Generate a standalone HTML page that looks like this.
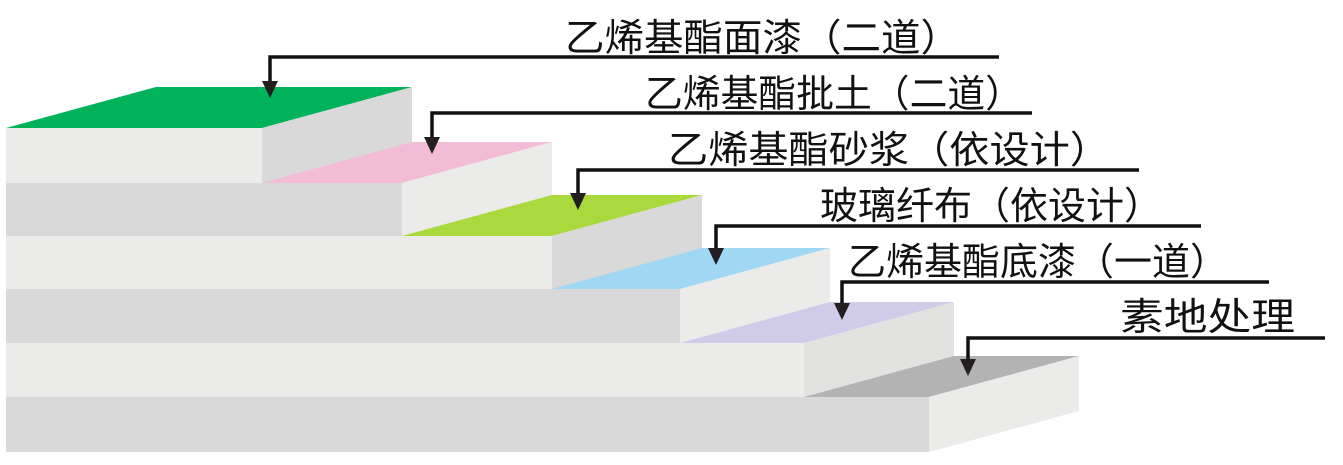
<!DOCTYPE html>
<html><head><meta charset="utf-8"><style>
html,body{margin:0;padding:0;background:#fff;width:1343px;height:465px;overflow:hidden}
svg{display:block}
text{font-family:"Liberation Sans","Noto Sans CJK SC",sans-serif;font-size:38px;fill:#111}
</style></head><body>
<svg width="1343" height="465" viewBox="0 0 1343 465">
<!-- step 6 -->
<polygon points="6,397 929,397 1079,356 156,356" fill="#b3b3b3"/>
<polygon points="929,397 1079,356 1079,411 929,452" fill="#ebebea"/>
<rect x="6" y="397" width="923" height="55" fill="#d9d9d9"/>
<!-- step 5 -->
<polygon points="6,343 804,343 954,302 156,302" fill="#cfcbe8"/>
<polygon points="804,343 954,302 954,356 804,397" fill="#e2e2e1"/>
<rect x="6" y="343" width="798" height="54" fill="#ebebea"/>
<!-- step 4 -->
<polygon points="6,289 680,289 830,248 156,248" fill="#a0d8f3"/>
<polygon points="680,289 830,248 830,302 680,343" fill="#ebebea"/>
<rect x="6" y="289" width="674" height="54" fill="#d9d9d9"/>
<!-- step 3 -->
<polygon points="6,236 552,236 702,195 156,195" fill="#a9d93c"/>
<polygon points="552,236 702,195 702,248 552,289" fill="#d9d9d9"/>
<rect x="6" y="236" width="546" height="53" fill="#ebebea"/>
<!-- step 2 -->
<polygon points="6,183 402,183 552,142 156,142" fill="#f3bcd6"/>
<polygon points="402,183 552,142 552,195 402,236" fill="#ebebea"/>
<rect x="6" y="183" width="396" height="53" fill="#d9d9d9"/>
<!-- step 1 -->
<polygon points="6,128 262,128 412,87 156,87" fill="#00b25a"/>
<polygon points="262,128 412,87 412,142 262,183" fill="#d9d9d9"/>
<rect x="6" y="128" width="256" height="55" fill="#ebebea"/>

<g stroke="#111" stroke-width="3.5" fill="none">
<polyline points="999,57 270,57 270,84"/>
<polyline points="1032,113 432,113 432,140"/>
<polyline points="1139,170 578,170 578,196"/>
<polyline points="1201,226 716,226 716,251"/>
<polyline points="1269,282 842,282 842,306"/>
<polyline points="1325,338 968,338 968,362"/>
</g>
<g fill="#231f20">
<polygon points="262,81 278,81 270,98"/>
<polygon points="424,137 440,137 432,154"/>
<polygon points="570,193 586,193 578,210"/>
<polygon points="708,248 724,248 716,265"/>
<polygon points="834,303 850,303 842,320"/>
<polygon points="960,359 976,359 968,376"/>
</g>
<text x="565" y="51" textLength="395" lengthAdjust="spacingAndGlyphs">乙烯基酯面漆（二道）</text>
<text x="645" y="107" textLength="378" lengthAdjust="spacingAndGlyphs">乙烯基酯批土（二道）</text>
<text x="668" y="163" textLength="442" lengthAdjust="spacingAndGlyphs">乙烯基酯砂浆（依设计）</text>
<text x="820" y="219" textLength="342" lengthAdjust="spacingAndGlyphs">玻璃纤布（依设计）</text>
<text x="848" y="275" textLength="380" lengthAdjust="spacingAndGlyphs">乙烯基酯底漆（一道）</text>
<text x="1120" y="330" textLength="175" lengthAdjust="spacingAndGlyphs">素地处理</text>
</svg>
</body></html>
